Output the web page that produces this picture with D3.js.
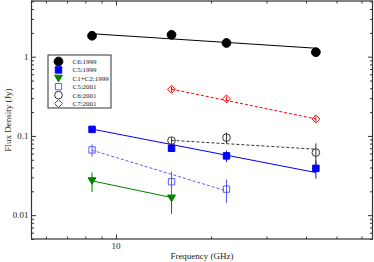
<!DOCTYPE html>
<html>
<head>
<meta charset="utf-8">
<script src="https://cdn.jsdelivr.net/npm/d3@7"></script>
<style>
body { margin: 0; background: #fff; }
text { font-family: "Liberation Serif", "DejaVu Serif", serif; fill: #222; }
</style>
</head>
<body>
<div id="chart"></div>
<script>
// frequencies (GHz)
const freqs = [8.4, 15, 22.4, 43];

// measured flux densities (Jy), null = not observed
const c6_1999 = [1.84, 1.89, 1.49, 1.14];
const c5_1999 = [0.121, 0.070, 0.056, 0.039];
const c12_1999 = [0.0271, 0.0164, null, null];
const c5_2001 = [0.0666, 0.0264, 0.0213, null];
const c6_2001 = [null, 0.0873, 0.0952, 0.0616];
const c7_2001 = [null, 0.388, 0.293, 0.164];

// errors (Jy)
const c6_1999_err = [0.05, 0.05, 0.04, 0.03];
const c5_1999_err = [0.008, 0.006, 0.009, 0.01];
const c12_1999_err = [0.0075, 0.006, null, null];
const c5_2001_err = [0.012, 0.009, 0.007, null];
const c6_2001_err = [null, 0.008, 0.015, 0.019];
const c7_2001_err = [null, 0.03, 0.02, 0.012];

// power-law fit end points: [freq, flux]
const c6_1999_fit = [[8.4, 1.95], [43, 1.28]];
const c5_1999_fit = [[8.4, 0.122], [43, 0.0345]];
const c12_1999_fit = [[8.4, 0.0271], [15, 0.0167]];
const c5_2001_fit = [[8.4, 0.066], [22.4, 0.0202]];
const c6_2001_fit = [[15, 0.088], [43, 0.068]];
const c7_2001_fit = [[15, 0.39], [43, 0.164]];

const yTickLabels = [1, 0.1, 0.01];
const xTickLabels = [10];

//set up the dimensions
const margin = { top: 1, right: 1.5, bottom: 23, left: 31.5 };
const width = 374 - margin.left - margin.right;
const height = 262 - margin.top - margin.bottom;

const svg = d3.select("#chart")
  .append("svg")
  .attr("width", 374)
  .attr("height", 262)
  .append("g")
  .attr("transform", "translate(" + margin.left + "," + margin.top + ")");

const x = d3.scaleLog().domain([5.4, 65]).range([0, width]);
const y = d3.scaleLog().domain([0.005, 5.05]).range([height, 0]);

// minor ticks
const xMinor = [6, 7, 8, 9, 20, 30, 40, 50, 60];
const yMinor = [];
[0.001, 0.01, 0.1, 1].forEach(d => {
  for (let k = 2; k <= 9; k++) {
    const v = +(d * k).toPrecision(3);
    if (v >= 0.005 && v <= 5.05) yMinor.push(v);
  }
});

// axes with inward ticks
function drawAxis(axis, pos) {
  const g = svg.append("g").attr("transform", pos).call(axis);
  g.select(".domain").remove();
  g.selectAll("line").attr("stroke", "#333");
  g.selectAll("text").remove();
}
drawAxis(d3.axisBottom(x).tickValues(xTickLabels).tickSize(-4.5), "translate(0," + height + ")");
drawAxis(d3.axisBottom(x).tickValues(xMinor).tickSize(-2.5), "translate(0," + height + ")");
drawAxis(d3.axisTop(x).tickValues(xTickLabels).tickSize(-4.5), "translate(0,0)");
drawAxis(d3.axisTop(x).tickValues(xMinor).tickSize(-2.5), "translate(0,0)");
drawAxis(d3.axisLeft(y).tickValues(yTickLabels).tickSize(-4.5), "translate(0,0)");
drawAxis(d3.axisLeft(y).tickValues(yMinor).tickSize(-2.5), "translate(0,0)");
drawAxis(d3.axisRight(y).tickValues(yTickLabels).tickSize(-4.5), "translate(" + width + ",0)");
drawAxis(d3.axisRight(y).tickValues(yMinor).tickSize(-2.5), "translate(" + width + ",0)");

// tick labels
svg.selectAll(".ylab")
  .data(yTickLabels)
  .enter()
  .append("text")
  .attr("x", -3)
  .attr("y", d => y(d))
  .attr("dy", "0.35em")
  .attr("text-anchor", "end")
  .style("font-size", "9px")
  .text(d => d);

svg.selectAll(".xlab")
  .data(xTickLabels)
  .enter()
  .append("text")
  .attr("x", d => x(d))
  .attr("y", height + 10)
  .attr("text-anchor", "middle")
  .style("font-size", "9px")
  .text(d => d);

// frame
svg.append("rect")
  .attr("width", width)
  .attr("height", height)
  .attr("fill", "none")
  .attr("stroke", "#333")
  .attr("stroke-width", 1.2);

// axis titles
svg.append("text")
  .attr("x", width / 2)
  .attr("y", height + 20)
  .attr("text-anchor", "middle")
  .style("font-size", "9px")
  .text("Frequency (GHz)");

svg.append("text")
  .attr("transform", "translate(" + (-21) + "," + (height / 2) + ") rotate(-90)")
  .attr("text-anchor", "middle")
  .style("font-size", "9px")
  .text("Flux Density (Jy)");

const series = [
  { name: "C6:1999", vals: c6_1999, err: c6_1999_err, fit: c6_1999_fit, color: "#000", sym: d3.symbolCircle, size: 60, filled: true, dash: null },
  { name: "C5:1999", vals: c5_1999, err: c5_1999_err, fit: c5_1999_fit, color: "#0000ff", sym: d3.symbolSquare, size: 42, filled: true, dash: null },
  { name: "C1+C2:1999", vals: c12_1999, err: c12_1999_err, fit: c12_1999_fit, color: "#008000", sym: "tri", size: 40, filled: true, dash: null },
  { name: "C5:2001", vals: c5_2001, err: c5_2001_err, fit: c5_2001_fit, color: "#5a5aff", sym: d3.symbolSquare, size: 40, filled: false, dash: "3,2" },
  { name: "C6:2001", vals: c6_2001, err: c6_2001_err, fit: c6_2001_fit, color: "#333", sym: d3.symbolCircle, size: 46, filled: false, dash: "3,2" },
  { name: "C7:2001", vals: c7_2001, err: c7_2001_err, fit: c7_2001_fit, color: "#ff0000", sym: d3.symbolDiamond2, size: 40, filled: false, dash: "3,2" }
];

// downward triangle
const triDown = {
  draw(ctx, size) {
    const s = Math.sqrt(size) * 0.62;
    ctx.moveTo(-s, -s * 0.8);
    ctx.lineTo(s, -s * 0.8);
    ctx.lineTo(0, s * 0.9);
    ctx.closePath();
  }
};

function symPath(s) {
  return d3.symbol().type(s.sym === "tri" ? triDown : s.sym).size(s.size)();
}

const line = d3.line().x(d => x(d[0])).y(d => y(d[1]));

// fit lines
series.forEach(s => {
  svg.append("path")
    .datum(s.fit)
    .attr("d", line)
    .attr("fill", "none")
    .attr("stroke", s.color)
    .attr("stroke-width", 1)
    .attr("stroke-dasharray", s.dash);
});

// error bars and markers
series.forEach(s => {
  const pts = freqs.map((f, i) => ({ f: f, v: s.vals[i], e: s.err[i] })).filter(d => d.v != null);
  svg.selectAll(null)
    .data(pts)
    .enter()
    .append("line")
    .attr("x1", d => x(d.f))
    .attr("x2", d => x(d.f))
    .attr("y1", d => y(d.v + d.e))
    .attr("y2", d => y(d.v - d.e))
    .attr("stroke", s.color)
    .attr("stroke-width", 1);
  svg.selectAll(null)
    .data(pts)
    .enter()
    .append("path")
    .attr("transform", d => "translate(" + x(d.f) + "," + y(d.v) + ")")
    .attr("d", symPath(s))
    .attr("fill", s.filled ? s.color : "none")
    .attr("stroke", s.color)
    .attr("stroke-width", 1);
});

// legend
const leg = svg.append("g").attr("transform", "translate(" + (48 - margin.left) + "," + (55 - margin.top) + ")");
leg.append("rect")
  .attr("width", 63)
  .attr("height", 53)
  .attr("fill", "#fff")
  .attr("stroke", "#333")
  .attr("stroke-width", 1);
series.forEach((s, i) => {
  const row = leg.append("g").attr("transform", "translate(0," + (6.5 + i * 8.4) + ")");
  row.append("path")
    .attr("transform", "translate(10.5,0)")
    .attr("d", symPath(s))
    .attr("fill", s.filled ? s.color : "none")
    .attr("stroke", s.color)
    .attr("stroke-width", 1);
  row.append("text")
    .attr("x", 24.5)
    .attr("dy", "0.35em")
    .style("font-size", "7px")
    .text(s.name);
});
</script>
</body>
</html>
